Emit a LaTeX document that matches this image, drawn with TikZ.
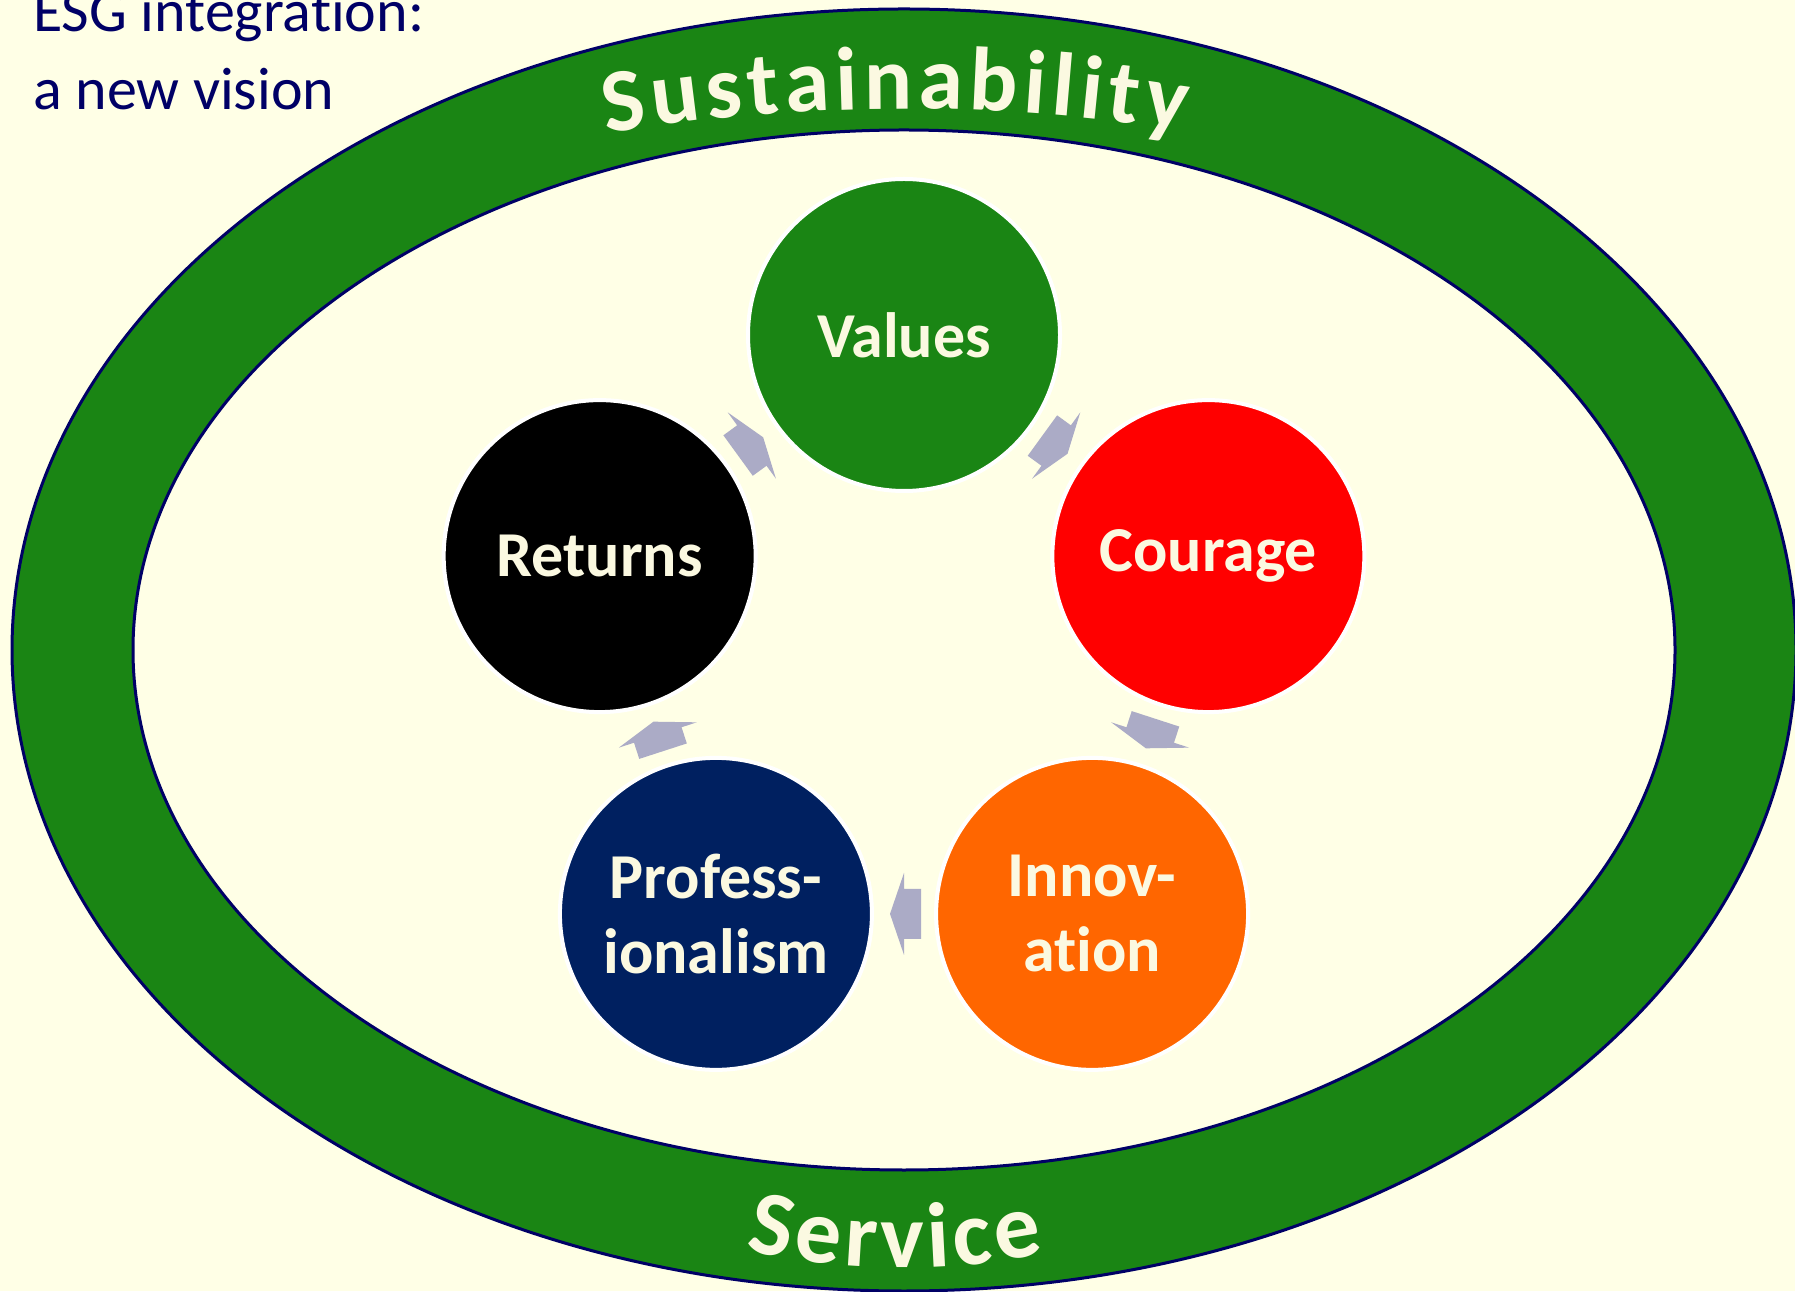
\documentclass[tikz,border=0pt]{standalone}
\usepackage{fontspec}
\setmainfont{Carlito}[Ligatures=NoCommon]
\usetikzlibrary{calc,decorations.text}

\definecolor{bgyellow}{HTML}{FFFFE6}
\definecolor{ringgreen}{HTML}{1A8514}
\definecolor{navyline}{HTML}{000066}
\definecolor{cream}{HTML}{FBF9E1}
\definecolor{arrowgray}{HTML}{ABABC6}
\definecolor{couragered}{HTML}{FF0000}
\definecolor{innovorange}{HTML}{FF6600}
\definecolor{profnavy}{HTML}{002060}

\begin{document}
\begin{tikzpicture}[x=1pt, y=1pt,
    circ/.style={circle, draw=white, line width=4pt, minimum size=312pt, inner sep=0pt, align=center, text=cream, font=\bfseries\fontsize{64}{75}\selectfont},
    titletext/.style={anchor=base west, text=navyline, inner sep=0pt, font=\fontsize{60}{78}\selectfont},
    cyclearrow/.pic={\fill[arrowgray] (-17,-25) -- (0,-25) -- (0,-41) -- (14,0) -- (0,41) -- (0,25) -- (-17,25) -- cycle;}]

    \fill[bgyellow] (0,0) rectangle (1795,1291);
    \useasboundingbox (0,0) rectangle (1795,1291);
    \coordinate (centre) at (904,641);
    \coordinate (hub) at (904,636);

    % outer ring
    \fill[ringgreen, even odd rule] (centre) ellipse [x radius=892pt, y radius=641pt] (centre) ellipse [x radius=771pt, y radius=520pt];
    \draw[navyline, line width=3pt] (centre) ellipse [x radius=892pt, y radius=641pt];
    \draw[navyline, line width=3pt] (centre) ellipse [x radius=771pt, y radius=520pt];

    \path[decorate, decoration={text along path, text align={fit to path}, text color=cream, text={|\bfseries\fontsize{90}{90}\selectfont|Sustainability}}] (centre) ++(107.3:1000pt and 541pt) arc[start angle=107.3, end angle=73.7, x radius=1000pt, y radius=541pt];
    \path[decorate, decoration={text along path, text align={fit to path}, text color=cream, text={|\bfseries\fontsize{92}{92}\selectfont|Service}}] (centre) ++(256.1:659pt and 618pt) arc[start angle=256.1, end angle=282.3, x radius=659pt, y radius=618pt];

    \node[titletext] (title) at (33,1259) {ESG integration:};
    \node[titletext] (subtitle) at (33,1181) {a new vision};

    % the five values
    \node[circ, fill=ringgreen] (values) at ($(hub)+(90:320pt)$) {Values};
    \node[circ, fill=couragered] (courage) at ($(hub)+(18:320pt)$) {Courage};
    \node[circ, fill=innovorange] (innovation) at ($(hub)+(-54:320pt)$) {Innov-\\ation};
    \node[circ, fill=profnavy] (professionalism) at ($(hub)+(-126:320pt)$) {Profess-\\ionalism};
    \node[circ, fill=black] (returns) at ($(hub)+(162:320pt)$) {Returns};

    \pic[rotate=-36] at ($(values)!0.5!(courage)$) {cyclearrow};
    \pic[rotate=-108] at ($(courage)!0.5!(innovation)$) {cyclearrow};
    \pic[rotate=180] at ($(innovation)!0.5!(professionalism)$) {cyclearrow};
    \pic[rotate=108] at ($(professionalism)!0.5!(returns)$) {cyclearrow};
    \pic[rotate=36] at ($(returns)!0.5!(values)$) {cyclearrow};
\end{tikzpicture}
\end{document}
